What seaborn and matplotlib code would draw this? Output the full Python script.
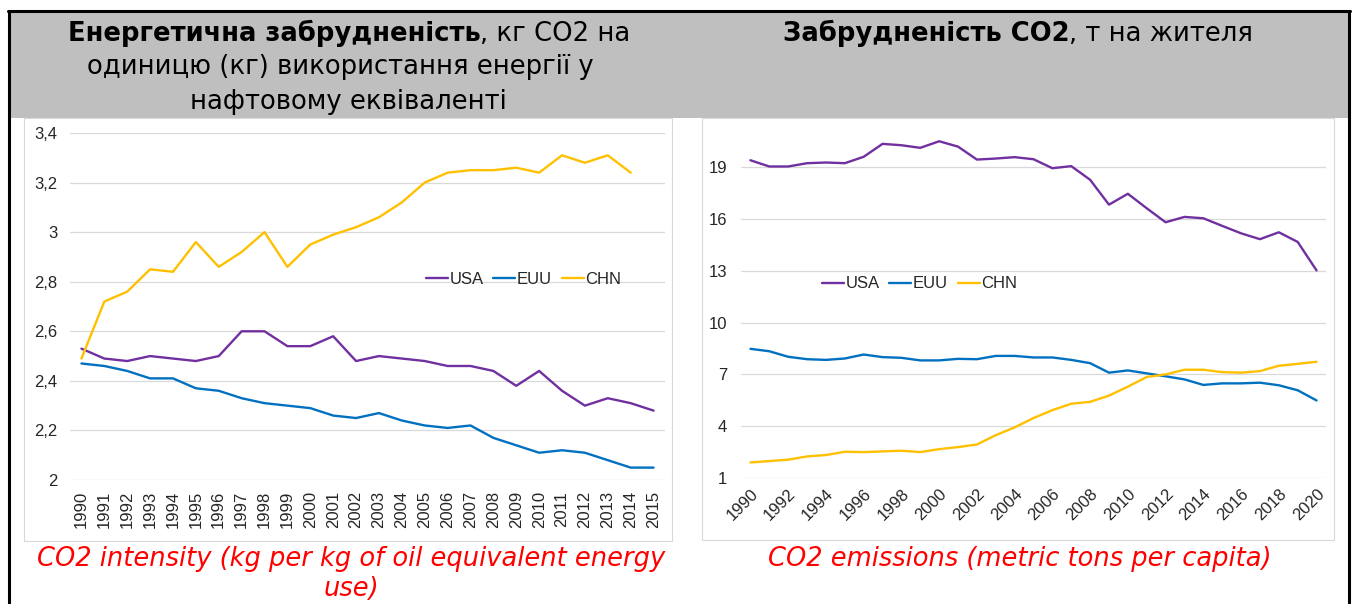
import matplotlib
matplotlib.use("Agg")
import matplotlib.pyplot as plt
import numpy as np
import pandas as pd
import seaborn as sns
from matplotlib.lines import Line2D
from matplotlib.offsetbox import AnnotationBbox, HPacker, TextArea
from matplotlib.patches import Rectangle

# --- data --------------------------------------------------------------------
countries = ["USA", "EUU", "CHN"]

# CO2 intensity, kg per kg of oil equivalent energy use
years_intensity = list(range(1990, 2016))
usa_intensity = [2.53, 2.49, 2.48, 2.50, 2.49, 2.48, 2.50, 2.60, 2.60, 2.54,
                 2.54, 2.58, 2.48, 2.50, 2.49, 2.48, 2.46, 2.46, 2.44, 2.38,
                 2.44, 2.36, 2.30, 2.33, 2.31, 2.28]
euu_intensity = [2.47, 2.46, 2.44, 2.41, 2.41, 2.37, 2.36, 2.33, 2.31, 2.30,
                 2.29, 2.26, 2.25, 2.27, 2.24, 2.22, 2.21, 2.22, 2.17, 2.14,
                 2.11, 2.12, 2.11, 2.08, 2.05, 2.05]
chn_intensity = [2.49, 2.72, 2.76, 2.85, 2.84, 2.96, 2.86, 2.92, 3.00, 2.86,
                 2.95, 2.99, 3.02, 3.06, 3.12, 3.20, 3.24, 3.25, 3.25, 3.26,
                 3.24, 3.31, 3.28, 3.31, 3.24, np.nan]

# CO2 emissions, metric tons per capita
years_capita = list(range(1990, 2021))
usa_capita = [19.40, 19.04, 19.04, 19.23, 19.27, 19.23, 19.60, 20.35, 20.27, 20.12,
              20.50, 20.19, 19.44, 19.50, 19.58, 19.46, 18.94, 19.06, 18.27, 16.83,
              17.46, 16.62, 15.81, 16.12, 16.04, 15.60, 15.17, 14.83, 15.23, 14.67,
              13.02]
euu_capita = [8.48, 8.34, 8.02, 7.88, 7.84, 7.92, 8.15, 8.00, 7.96, 7.81,
              7.81, 7.90, 7.88, 8.07, 8.07, 7.98, 7.98, 7.84, 7.65, 7.10,
              7.23, 7.06, 6.89, 6.71, 6.39, 6.48, 6.48, 6.52, 6.37, 6.08,
              5.49]
chn_capita = [1.90, 1.98, 2.06, 2.25, 2.33, 2.52, 2.50, 2.54, 2.58, 2.50,
              2.67, 2.79, 2.94, 3.48, 3.93, 4.47, 4.93, 5.30, 5.41, 5.77,
              6.29, 6.85, 7.00, 7.27, 7.27, 7.13, 7.10, 7.19, 7.50, 7.61,
              7.73]

intensity_ticks = [2.0, 2.2, 2.4, 2.6, 2.8, 3.0, 3.2, 3.4]
capita_ticks = [1, 4, 7, 10, 13, 16, 19]

palette = {"USA": "#7030A0", "EUU": "#0070C0", "CHN": "#FFC000"}

W, H = 1354, 604


def fx(px):
    return px / W


def fy(py):
    return 1 - py / H


def long_frame(series):
    rows = []
    for name, vals in series.items():
        for i, v in enumerate(vals):
            rows.append({"idx": i, "value": v, "country": name})
    return pd.DataFrame(rows).dropna()


df_int = long_frame({"USA": usa_intensity, "EUU": euu_intensity, "CHN": chn_intensity})
df_cap = long_frame({"USA": usa_capita, "EUU": euu_capita, "CHN": chn_capita})

sns.set_theme(style="white")
plt.rcParams["font.family"] = ["Liberation Sans", "DejaVu Sans"]

fig = plt.figure(figsize=(W / 100, H / 100), dpi=100)
fig.patch.set_facecolor("white")

# slide table: grey header band, black outline, two chart boxes
fig.add_artist(Rectangle((fx(10), fy(118)), (1349 - 10) / W, (118 - 12) / H,
                         transform=fig.transFigure, fc="#BFBFBF", ec="none", zorder=-3))
for xs, ys in [([fx(9), fx(9)], [fy(11), 0]),
               ([fx(1349), fx(1349)], [fy(11), 0]),
               ([fx(8), fx(1350)], [fy(11), fy(11)])]:
    fig.add_artist(Line2D(xs, ys, transform=fig.transFigure, color="black", lw=2.2, zorder=-2))
for x0, x1, y1 in [(24, 672, 541), (702, 1334, 540)]:
    fig.add_artist(Rectangle((fx(x0), fy(y1)), (x1 - x0) / W, (y1 - 118) / H,
                             transform=fig.transFigure, fc="white", ec="#D9D9D9",
                             lw=0.8, zorder=-2))

title_size = 18.6
title_font = dict(fontfamily="DejaVu Sans", fontsize=title_size, color="black")


def two_part_title(bold, rest, x, y):
    box = HPacker(children=[TextArea(bold, textprops=dict(title_font, fontweight="bold")),
                            TextArea(rest, textprops=title_font)],
                  align="baseline", pad=0, sep=0)
    ab = AnnotationBbox(box, (x, y), xycoords="figure fraction", frameon=False,
                        box_alignment=(0.5, 0.5), pad=0)
    fig.add_artist(ab)


two_part_title("Енергетична забрудненість", ", кг CO2 на", fx(349), fy(33))
fig.text(fx(340), fy(67), "одиницю (кг) використання енергії у", ha="center", va="center",
         **title_font)
fig.text(fx(348), fy(102), "нафтовому еквіваленті", ha="center", va="center", **title_font)
two_part_title("Забрудненість CO2", ", т на жителя", fx(1018), fy(33))


def style_axes(ax):
    ax.set_facecolor("none")
    for s in ax.spines.values():
        s.set_visible(False)
    ax.yaxis.grid(True, color="#D9D9D9", lw=0.9)
    ax.xaxis.grid(False)
    ax.set_axisbelow(True)
    ax.tick_params(length=0, labelsize=12, colors="#262626")
    ax.set_xlabel("")
    ax.set_ylabel("")


def add_legend(ax, x, y):
    handles, labels = ax.get_legend_handles_labels()
    ax.legend(handles, labels, ncol=3, frameon=False, loc="center left",
              bbox_to_anchor=(fx(x), fy(y)), bbox_transform=fig.transFigure,
              handlelength=1.3, handletextpad=0.1, columnspacing=0.6,
              borderpad=0, borderaxespad=0, fontsize=12)


# left chart: CO2 intensity
ax1 = fig.add_axes([fx(70), fy(480), 595 / W, (480 - 133) / H])
sns.lineplot(data=df_int, x="idx", y="value", hue="country", hue_order=countries,
             palette=palette, lw=1.7, ax=ax1)
style_axes(ax1)
ax1.set_xlim(-0.5, len(years_intensity) - 0.5)
ax1.set_ylim(intensity_ticks[0], intensity_ticks[-1])
ax1.set_yticks(intensity_ticks)
ax1.set_yticklabels([("%g" % round(v, 1)).replace(".", ",") for v in intensity_ticks])
ax1.set_xticks(range(len(years_intensity)))
ax1.set_xticklabels([str(y) for y in years_intensity], rotation=90)
ax1.tick_params(axis="y", pad=9)
ax1.tick_params(axis="x", pad=8)
add_legend(ax1, 426, 279)

# right chart: CO2 per capita
ax2 = fig.add_axes([fx(741), fy(478), 585 / W, (478 - 124) / H])
sns.lineplot(data=df_cap, x="idx", y="value", hue="country", hue_order=countries,
             palette=palette, lw=1.7, ax=ax2)
style_axes(ax2)
ax2.set_xlim(-0.5, len(years_capita) - 0.5)
ax2.set_ylim(1, 21.5)
ax2.set_yticks(capita_ticks)
ax2.set_xticks(range(0, len(years_capita), 2))
ax2.set_xticklabels([str(y) for y in years_capita[::2]], rotation=45, ha="right",
                    rotation_mode="anchor")
ax2.tick_params(axis="y", pad=10)
ax2.tick_params(axis="x", pad=6)
add_legend(ax2, 822, 284)

# red captions under the charts
cap = dict(color="#FF0000", style="italic", fontfamily="DejaVu Sans", fontsize=18.5,
           ha="center", va="center")
fig.text(fx(351), fy(559), "CO2 intensity (kg per kg of oil equivalent energy", **cap)
fig.text(fx(351), fy(589), "use)", **cap)
fig.text(fx(1020), fy(559), "CO2 emissions (metric tons per capita)", **cap)

fig.savefig("out.png", dpi=100)
